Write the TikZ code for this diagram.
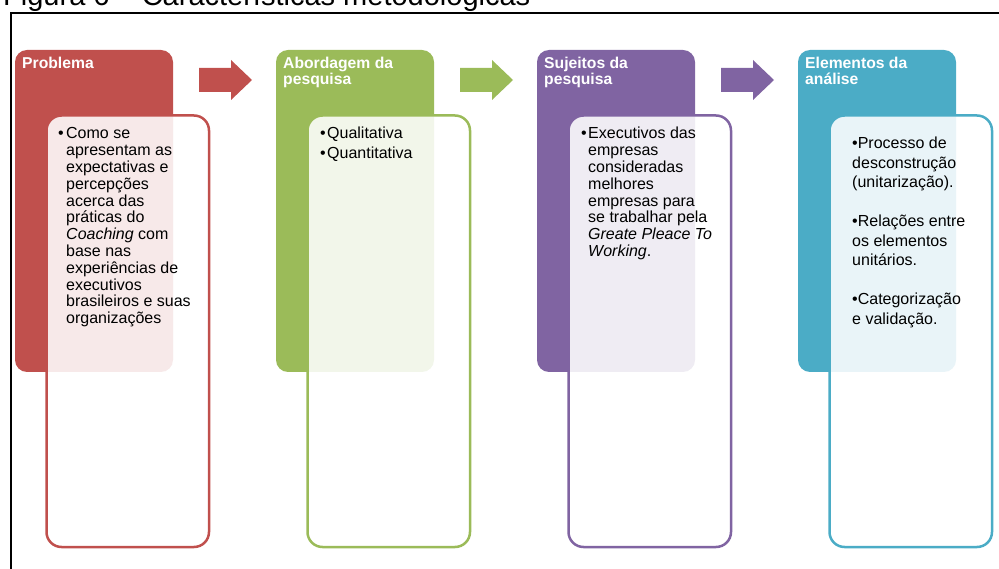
\documentclass[tikz,border=0pt]{standalone}
\usepackage{fontspec}
\setmainfont{Liberation Sans}
\definecolor{cA}{HTML}{C0504D}
\definecolor{cB}{HTML}{9BBB59}
\definecolor{cC}{HTML}{8064A2}
\definecolor{cD}{HTML}{4BACC6}
\newcommand\mybul{\makebox[7pt][l]{•}}
\newcommand\bodyA{\fontsize{16}{16.8}\selectfont}
\newcommand\hangbul[1]{\leftskip=#1\relax\noindent\hspace*{-#1}\makebox[#1][l]{•}}
\begin{document}
\begin{tikzpicture}[x=1pt,y=-1pt,
  colbox/.style={rounded corners=12pt, minimum width=158pt, minimum height=322pt, inner sep=0pt, outer sep=0pt},
  innerbox/.style={draw, line width=2.5pt, rounded corners=15pt, fill=white, fill opacity=0.88, minimum width=162.5pt, minimum height=431.5pt, inner sep=0pt, outer sep=0pt},
  hdr/.style={anchor=base west, inner sep=0pt, text=white},
  body/.style={anchor=base west, inner sep=0pt, text=black}
]
\useasboundingbox (0,0) rectangle (999,569);
\clip (0,0) rectangle (999,569);
% title (cut off at the top)
\node[anchor=base west, inner sep=0pt, font=\fontsize{29}{30}\selectfont] (title) at (3,6) {Figura 6 – Características metodológicas};
% frame
\draw[line width=2pt] (11,569) -- (11,13.5) -- (999,13.5);
% columns
\foreach \i/\c in {0/cA,1/cB,2/cC,3/cD}{
  \node[colbox, fill=\c] (h\i) at ({94+261*\i},211) {};
  \node[innerbox, draw=\c] (b\i) at ({127.75+261*\i},331.25) {};
}
% block arrows
\foreach \i/\c in {0/cA,1/cB,2/cC}{
  \fill[\c] ({199+261*\i},68) -- ({231+261*\i},68) -- ({231+261*\i},60) -- ({252+261*\i},80)
     -- ({231+261*\i},100) -- ({231+261*\i},92) -- ({199+261*\i},92) -- cycle;
}
% headers
\node[hdr] (t0) at (22,69) {\parbox[t]{150pt}{\bfseries\fontsize{15.7}{16}\selectfont Problema}};
\node[hdr] (t1) at (283,69) {\parbox[t]{150pt}{\bfseries\fontsize{15.7}{16}\selectfont Abordagem da\\pesquisa}};
\node[hdr] (t2) at (544,69) {\parbox[t]{150pt}{\bfseries\fontsize{15.7}{16}\selectfont Sujeitos da\\pesquisa}};
\node[hdr] (t3) at (805,69) {\parbox[t]{150pt}{\bfseries\fontsize{15.7}{16}\selectfont Elementos da\\análise}};
% bodies
\node[body] (x0) at (58,139) {\parbox[t]{150pt}{\raggedright\bodyA\parindent=0pt
  \hangbul{8pt}Como se\\ apresentam as\\ expectativas e\\ percepções\\ acerca das\\ práticas do\\ \textit{Coaching} com\\ base nas\\ experiências de\\ executivos\\ brasileiros e suas\\ organizações}};
\node[body] (x1) at (320,139) {\parbox[t]{150pt}{\raggedright\bodyA\parindent=0pt\parskip=3.2pt
  \mybul Qualitativa\par
  \mybul Quantitativa}};
\node[body] (x2) at (581,139) {\parbox[t]{150pt}{\raggedright\bodyA\parindent=0pt
  \hangbul{7pt}Executivos das\\ empresas\\ consideradas\\ melhores\\ empresas para\\ se trabalhar pela\\ \textit{Greate Pleace To}\\ \textit{Working}.}};
\node[body] (x3) at (852,149) {\parbox[t]{150pt}{\raggedright\fontsize{16}{19.5}\selectfont\parindent=0pt\parskip=19.5pt
  •Processo de\\ desconstrução\\ (unitarização).\par
  •Relações entre\\ os elementos\\ unitários.\par
  •Categorização\\ e validação.}};
\end{tikzpicture}
\end{document}
